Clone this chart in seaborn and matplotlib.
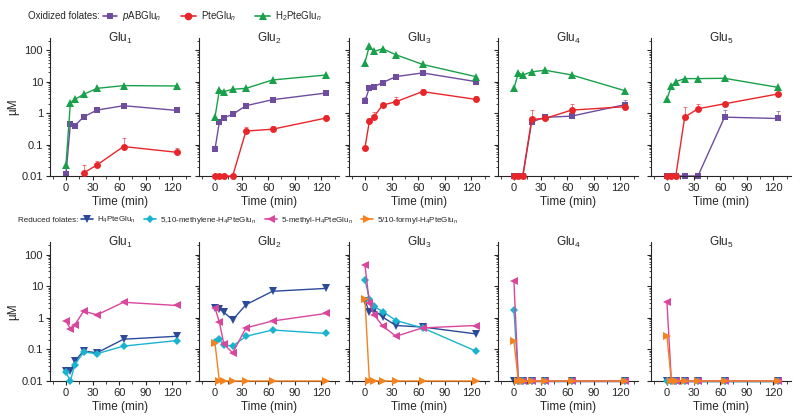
import matplotlib
matplotlib.use("Agg")
import matplotlib.pyplot as plt
from matplotlib.lines import Line2D
from matplotlib.ticker import LogLocator, NullFormatter, MultipleLocator
import seaborn as sns
import pandas as pd
import numpy as np

sns.set_theme(style="ticks")
plt.rcParams['font.family'] = ['Liberation Sans', 'DejaVu Sans']
plt.rcParams['mathtext.fontset'] = 'custom'
plt.rcParams['mathtext.rm'] = 'Liberation Sans'
plt.rcParams['mathtext.it'] = 'Liberation Sans:italic'

nan = np.nan
time = [0, 5, 10, 20, 35, 65, 125]
panels = ['Glu$_1$', 'Glu$_2$', 'Glu$_3$', 'Glu$_4$', 'Glu$_5$']

# oxidized folates, one list per panel (Glu1..Glu5)
pabglu = [[0.0113, 0.45, 0.40, 0.77, 1.26, 1.74, 1.23],
          [0.07, 0.53, 0.72, 0.92, 1.74, 2.7, 4.4],
          [2.45, 6.5, 7.0, 9.5, 14.7, 19.3, 10.2],
          [0.01, 0.01, 0.01, 0.53, 0.74, 0.81, 1.87],
          [0.01, 0.01, 0.01, 0.01, 0.01, 0.75, 0.68]]
pteglu = [[nan, nan, nan, 0.0125, 0.0225, 0.087, 0.057],
          [0.01, 0.01, 0.01, 0.01, 0.27, 0.31, 0.70],
          [0.079, 0.56, 0.77, 1.82, 2.33, 4.9, 2.77],
          [0.01, 0.01, 0.01, 0.64, 0.68, 1.26, 1.61],
          [0.01, 0.01, 0.01, 0.75, 1.39, 2.0, 4.1]]
h2pteglu = [[0.0225, 2.17, 2.77, 4.0, 6.2, 7.6, 7.4],
            [0.74, 5.5, 4.9, 5.8, 6.2, 11.5, 16.5],
            [41, 141, 93, 113, 73, 36, 14.7],
            [6.2, 19.3, 16.6, 20.8, 23.5, 16.6, 5.25],
            [2.84, 7.4, 10.2, 12.7, 12.7, 13.0, 6.7]]

# reduced folates
h4pteglu = [[0.020, 0.020, 0.043, 0.089, 0.078, 0.21, 0.26],
            [2.07, 1.9, 1.5, 0.86, 2.6, 6.9, 8.5],
            [3.5, 1.51, 1.79, 1.05, 0.57, 0.51, 0.31],
            [0.01, 0.01, 0.01, 0.01, 0.01, 0.01, 0.01],
            [0.01, 0.01, 0.01, 0.01, 0.01, 0.01, 0.01]]
methylene = [[0.019, 0.01, 0.033, 0.082, 0.073, 0.127, 0.19],
             [0.17, 0.21, 0.14, 0.127, 0.26, 0.41, 0.32],
             [16.2, 4.0, 2.28, 1.58, 0.82, 0.48, 0.089],
             [1.79, 0.01, 0.01, 0.01, 0.01, 0.01, 0.01],
             [0.01, 0.01, 0.01, 0.01, 0.01, 0.01, 0.01]]
methyl = [[0.82, 0.44, 0.60, 1.63, 1.24, 3.1, 2.45],
          [2.07, 0.73, 0.15, 0.077, 0.48, 0.79, 1.37],
          [47, 2.9, 1.27, 0.55, 0.26, 0.48, 0.57],
          [14.4, 0.01, 0.01, 0.01, 0.01, 0.01, 0.01],
          [3.1, 0.01, 0.01, 0.01, 0.01, 0.01, 0.01]]
formyl = [[nan, nan, nan, nan, nan, nan, nan],
          [0.16, 0.01, 0.01, 0.01, 0.01, 0.01, 0.01],
          [3.8, 0.01, 0.01, 0.01, 0.01, 0.01, 0.01],
          [0.18, 0.01, 0.01, 0.01, 0.01, 0.01, 0.01],
          [0.26, 0.01, 0.01, 0.01, 0.01, 0.01, 0.01]]

# upper error bar tops for a few series (value at top of whisker)
err_top_pteglu = [[nan, nan, nan, 0.022, 0.030, 0.16, 0.08],
                  [nan, nan, nan, nan, 0.36, 0.40, 0.85],
                  [nan, 0.70, 1.1, nan, 3.2, 6.0, 3.5],
                  [nan, nan, nan, 1.3, 0.85, 1.9, 1.9],
                  [nan, nan, nan, 1.6, 1.9, nan, nan]]
err_top_pabglu = [[nan] * 7,
                  [nan] * 7,
                  [3.3, nan, nan, nan, nan, nan, nan],
                  [nan, nan, nan, nan, 0.95, nan, 2.6],
                  [nan, nan, nan, nan, nan, 1.3, 1.2]]

ox_names = ['$p$ABGlu$_n$', 'PteGlu$_n$', 'H$_2$PteGlu$_n$']
red_names = ['H$_4$PteGlu$_n$', '5,10-methylene-H$_4$PteGlu$_n$',
             '5-methyl-H$_4$PteGlu$_n$', '5/10-formyl-H$_4$PteGlu$_n$']
colors = dict(zip(ox_names + red_names,
                  ['#6E4C9E', '#E8262A', '#19A04B', '#2C4A9A', '#19B3CF', '#D9479C', '#F58220']))
markers = dict(zip(ox_names + red_names, ['s', 'o', '^', 'v', 'D', '<', '>']))
msize = dict(zip(ox_names + red_names, [4.5, 5, 5.5, 5.5, 4, 5.5, 5.5]))


def long_df(series, names, i):
    rows = []
    for s, n in zip(series, names):
        for t, v in zip(time, s[i]):
            rows.append({'Time': t, 'conc': v, 'species': n})
    return pd.DataFrame(rows)


W, H = 800, 419
fig = plt.figure(figsize=(W / 100, H / 100), dpi=100)
lefts = [50, 199, 349, 498, 651]
rows = [(38, 176, [pabglu, pteglu, h2pteglu], ox_names),
        (242, 381, [h4pteglu, methylene, methyl, formyl], red_names)]

for r, (top, bot, series, names) in enumerate(rows):
    for i, lx in enumerate(lefts):
        ax = fig.add_axes([lx / W, 1 - bot / H, 140 / W, (bot - top) / H])
        df = long_df(series, names, i).dropna()
        for k, n in enumerate(names):
            sub = df[df['species'] == n]
            if sub.empty:
                continue
            sns.lineplot(data=sub, x='Time', y='conc', color=colors[n], marker=markers[n],
                         lw=1, markersize=msize[n], markeredgewidth=0, legend=False,
                         ax=ax, clip_on=False, zorder=2 + k)
        if r == 0:
            for errs, vals, n in [(err_top_pteglu, pteglu, names[1]), (err_top_pabglu, pabglu, names[0])]:
                v = np.array(vals[i], float)
                e = np.array(errs[i], float) - v
                ok = ~np.isnan(e)
                ax.errorbar(np.array(time)[ok], v[ok], yerr=[np.zeros(ok.sum()), e[ok]],
                            fmt='none', ecolor=colors[n], elinewidth=0.6, capsize=1.5,
                            capthick=0.6, alpha=0.7)
        ax.set_yscale('log')
        ax.set_xlim(-18, 140)
        ax.xaxis.set_major_locator(MultipleLocator(30))
        ax.xaxis.set_minor_locator(MultipleLocator(15))
        ax.yaxis.set_minor_locator(LogLocator(base=10, subs=np.arange(2, 10), numticks=10))
        ax.yaxis.set_minor_formatter(NullFormatter())
        ax.set_yticks([0.01, 0.1, 1, 10, 100])
        ax.set_yticklabels(['0.01', '0.1', '1', '10', '100'])
        ax.set_ylim(0.01, 250)
        sns.despine(ax=ax)
        ax.tick_params(axis='both', which='major', labelsize=8, length=3, width=0.8, pad=2)
        ax.tick_params(axis='both', which='minor', length=1.8, width=0.6)
        for sp in ['left', 'bottom']:
            ax.spines[sp].set_linewidth(0.8)
        ax.set_xlabel('Time (min)', fontsize=8.5, labelpad=2)
        if i == 0:
            ax.set_ylabel('µM', fontsize=8.5, labelpad=2)
        else:
            ax.set_ylabel('')
            ax.set_yticklabels([])
        ax.text(0.5, 1.0, panels[i], transform=ax.transAxes, ha='center', va='center', fontsize=8.5)


# legends: a lead-in label, then the entries right after it
def handles(names):
    return [Line2D([], [], color=colors[n], marker=markers[n], markersize=msize[n] + 0.5,
                   markeredgewidth=0, lw=1.2) for n in names]


renderer = fig.canvas.get_renderer()
for label, x0, y0, names, fs, cs in [('Oxidized folates:', 28, 16, ox_names, 7, 2.0),
                                     ('Reduced folates:', 18, 220, red_names, 5.8, 1.0)]:
    t = fig.text(x0 / W, 1 - y0 / H, label, fontsize=fs, va='center')
    x1 = t.get_window_extent(renderer).x1
    fig.legend(handles(names), names, loc='center left',
               bbox_to_anchor=((x1 + 3) / W, 1 - y0 / H), ncol=len(names), frameon=False,
               fontsize=fs, handlelength=1.5, columnspacing=cs, handletextpad=0.5,
               borderaxespad=0, borderpad=0)

fig.savefig('out.png', dpi=100)
